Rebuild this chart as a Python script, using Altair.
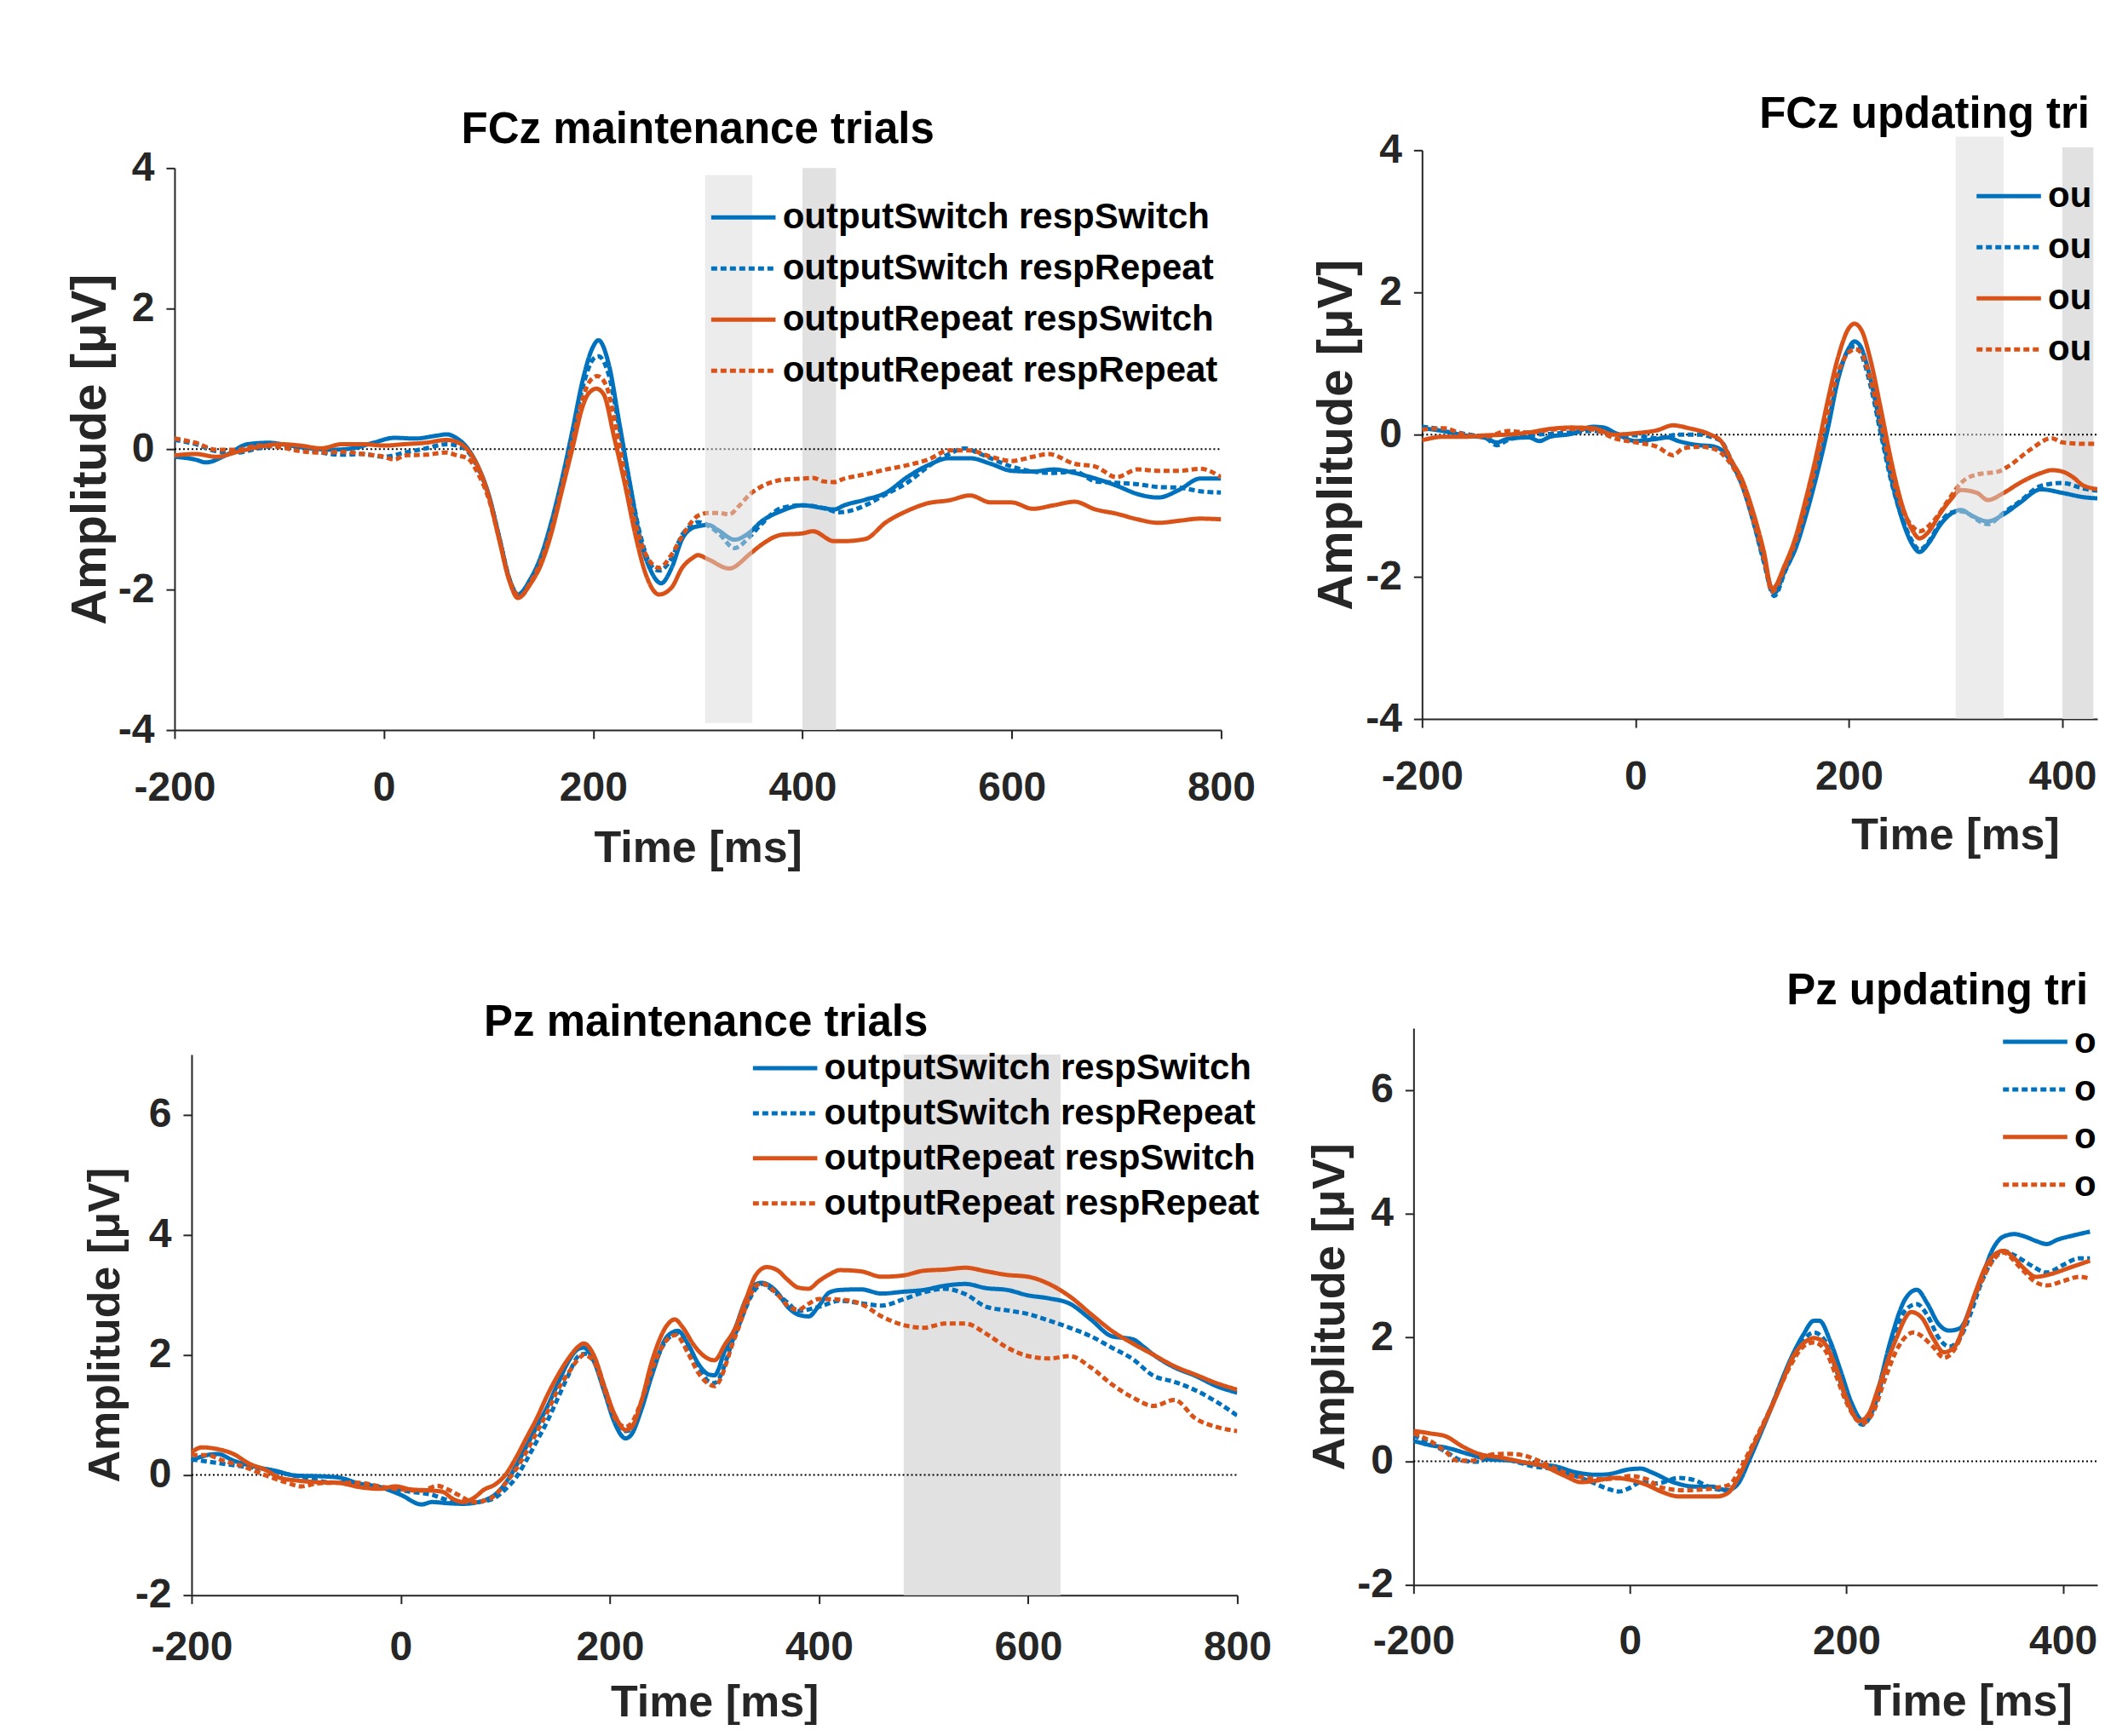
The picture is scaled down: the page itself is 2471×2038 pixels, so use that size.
import altair as alt
import pandas as pd

FONT = "Liberation Sans"
INK = "#262626"

SERIES = ["outputSwitch respSwitch", "outputSwitch respRepeat",
          "outputRepeat respSwitch", "outputRepeat respRepeat"]
COLORS = ["#0072BD", "#0072BD", "#D95319", "#D95319"]
DASHES = [[1, 0], [7, 4], [1, 0], [7, 4]]
X_TICKS = [-200, 0, 200, 400, 600, 800]
ZERO_LINE = [0]

# ---------------- FCz maintenance ----------------
TL_BS_T = [-200,-180,-170,-150,-130,-110,-90,-70,-50,-30,-10,10,30,50,60,70,80,90,100,110,120,128,140,150,160,170,180,190,200,205,215,225,235,245,255,265,275,285,295,300,310,320,335,350,360,380,400,420,430,440,460,480,500,520,540,560,580,600,620,640,660,680,700,720,740,760,780,800]
TL_BS_V = [-0.11,-0.15,-0.19,-0.08,0.07,0.09,0.05,0.01,-0.01,0.01,0.09,0.16,0.15,0.19,0.21,0.15,0.01,-0.25,-0.64,-1.24,-1.85,-2.07,-1.85,-1.53,-1.04,-0.44,0.25,0.98,1.46,1.55,1.20,0.37,-0.48,-1.28,-1.73,-1.91,-1.69,-1.28,-1.12,-1.10,-1.08,-1.16,-1.29,-1.18,-1.04,-0.88,-0.80,-0.84,-0.86,-0.80,-0.72,-0.62,-0.40,-0.23,-0.13,-0.13,-0.21,-0.31,-0.32,-0.29,-0.34,-0.42,-0.52,-0.64,-0.69,-0.58,-0.42,-0.42]
TL_BD_T = [-200,-180,-160,-140,-120,-100,-80,-60,-40,-20,0,20,40,60,70,80,90,100,110,120,130,140,150,160,170,180,190,200,205,215,225,235,245,255,263,275,285,295,300,320,335,350,360,380,400,420,435,450,460,480,500,520,540,555,570,600,620,640,660,680,700,720,740,760,780,800]
TL_BD_V = [0.13,0.07,-0.03,-0.05,0.01,0.05,0.01,-0.05,-0.08,-0.07,-0.11,-0.05,0.01,0.07,0.05,-0.03,-0.28,-0.66,-1.24,-1.85,-2.10,-1.88,-1.58,-1.10,-0.50,0.18,0.88,1.28,1.32,1.05,0.30,-0.50,-1.22,-1.65,-1.73,-1.55,-1.22,-1.08,-1.04,-1.20,-1.41,-1.24,-1.08,-0.84,-0.80,-0.84,-0.90,-0.86,-0.80,-0.64,-0.48,-0.25,-0.07,0.01,-0.07,-0.25,-0.32,-0.34,-0.32,-0.46,-0.48,-0.50,-0.54,-0.55,-0.60,-0.62]
TL_OS_T = [-200,-180,-160,-140,-120,-100,-80,-60,-40,-20,0,20,40,60,70,80,90,100,110,120,128,140,150,160,170,180,190,195,203,210,220,230,240,250,263,275,285,295,300,310,330,350,360,380,400,410,430,440,460,480,500,520,540,560,580,600,620,640,660,680,700,720,740,760,780,800]
TL_OS_V = [-0.09,-0.07,-0.11,-0.04,0.03,0.07,0.05,0.01,0.07,0.07,0.05,0.07,0.09,0.13,0.10,-0.01,-0.25,-0.66,-1.28,-1.88,-2.12,-1.92,-1.65,-1.20,-0.60,0.00,0.61,0.78,0.86,0.78,0.17,-0.48,-1.20,-1.77,-2.07,-1.97,-1.69,-1.55,-1.51,-1.57,-1.70,-1.49,-1.37,-1.22,-1.20,-1.17,-1.31,-1.31,-1.28,-1.04,-0.88,-0.77,-0.73,-0.66,-0.76,-0.76,-0.85,-0.80,-0.75,-0.86,-0.92,-1.00,-1.05,-1.02,-0.99,-1.00]
TL_OD_T = [-200,-180,-160,-140,-120,-100,-80,-60,-40,-20,0,10,20,40,60,70,80,90,100,110,120,130,140,150,160,170,180,190,196,204,212,222,232,242,252,263,275,285,295,300,310,320,330,340,350,360,380,400,410,420,430,440,460,480,500,520,540,560,580,600,620,635,660,680,700,720,740,760,780,800]
TL_OD_V = [0.15,0.09,-0.01,-0.01,0.05,0.03,-0.03,-0.05,-0.04,-0.07,-0.11,-0.15,-0.09,-0.08,-0.05,-0.09,-0.13,-0.35,-0.70,-1.26,-1.86,-2.10,-1.90,-1.60,-1.15,-0.55,0.10,0.72,0.95,1.04,0.92,0.30,-0.50,-1.15,-1.55,-1.69,-1.50,-1.24,-1.02,-0.95,-0.91,-0.91,-0.93,-0.80,-0.64,-0.54,-0.44,-0.42,-0.41,-0.46,-0.47,-0.42,-0.36,-0.29,-0.23,-0.15,-0.02,-0.02,-0.11,-0.17,-0.11,-0.07,-0.21,-0.25,-0.40,-0.29,-0.31,-0.31,-0.28,-0.40]
TL_OVER = {"t": [307], "t2": [352], "v": [-3.9], "v2": [3.9]}
TL_UNDER = {"t": [400], "t2": [432], "v": [-4], "v2": [4]}

# ---------------- FCz updating ----------------
TR_BS_T = [-200,-180,-160,-140,-130,-120,-100,-90,-80,-60,-40,-30,-20,0,20,30,40,60,70,80,90,100,110,120,130,140,150,160,170,180,190,200,205,210,220,230,240,250,260,266,275,285,295,305,315,330,345,360,380,400,420,440]
TR_BS_V = [0.09,0.05,-0.01,-0.05,-0.11,-0.06,-0.04,-0.09,-0.03,0.01,0.11,0.10,0.03,-0.09,-0.06,-0.04,-0.09,-0.15,-0.16,-0.21,-0.40,-0.72,-1.20,-1.75,-2.23,-1.91,-1.60,-1.12,-0.56,0.07,0.79,1.22,1.31,1.26,0.79,0.07,-0.64,-1.20,-1.56,-1.65,-1.52,-1.28,-1.12,-1.06,-1.14,-1.22,-1.12,-0.96,-0.77,-0.82,-0.88,-0.90]
TR_BD_T = [-200,-180,-160,-140,-130,-120,-100,-80,-60,-40,-20,0,20,40,60,70,80,90,100,110,120,130,140,150,160,170,180,190,200,205,210,220,230,240,250,260,266,275,285,295,305,330,345,360,380,400,420,440]
TR_BD_V = [0.11,0.07,0.01,-0.05,-0.15,-0.08,-0.01,0.01,0.03,0.05,0.01,-0.01,-0.05,0.00,0.00,-0.03,-0.09,-0.37,-0.70,-1.20,-1.78,-2.27,-1.93,-1.58,-1.08,-0.50,0.12,0.82,1.20,1.24,1.18,0.70,0.00,-0.68,-1.18,-1.52,-1.62,-1.50,-1.25,-1.10,-1.08,-1.26,-1.10,-0.94,-0.72,-0.68,-0.76,-0.80]
TR_OS_T = [-200,-180,-160,-140,-120,-100,-80,-60,-40,-20,0,20,35,50,70,80,90,100,110,120,128,140,150,160,170,180,190,200,205,212,220,230,240,250,260,266,275,285,295,305,320,330,345,360,380,390,400,410,420,440]
TR_OS_V = [-0.08,-0.03,-0.03,-0.01,0.00,0.03,0.08,0.10,0.09,0.00,0.02,0.06,0.13,0.09,0.00,-0.09,-0.37,-0.64,-1.08,-1.63,-2.17,-1.83,-1.44,-0.88,-0.25,0.47,1.10,1.50,1.56,1.46,1.06,0.35,-0.40,-1.00,-1.36,-1.46,-1.36,-1.12,-0.92,-0.78,-0.82,-0.92,-0.82,-0.68,-0.54,-0.50,-0.52,-0.60,-0.72,-0.78]
TR_OD_T = [-200,-180,-160,-140,-120,-100,-80,-60,-40,-20,0,20,35,45,60,75,85,100,110,120,128,140,150,160,170,180,190,200,206,212,220,230,240,250,260,266,280,295,305,320,340,350,370,390,400,420,440]
TR_OD_V = [0.07,0.09,0.00,-0.03,0.05,0.03,0.07,0.08,0.07,-0.05,-0.11,-0.17,-0.29,-0.19,-0.17,-0.21,-0.33,-0.72,-1.18,-1.72,-2.21,-1.86,-1.50,-0.98,-0.38,0.30,0.88,1.16,1.20,1.14,0.78,0.15,-0.55,-1.05,-1.30,-1.36,-1.20,-0.88,-0.68,-0.56,-0.52,-0.44,-0.21,-0.05,-0.11,-0.13,-0.13]
TR_OVER = {"t": [300], "t2": [345], "v": [-4], "v2": [4.19]}
TR_UNDER = {"t": [400], "t2": [429], "v": [-4], "v2": [4.04]}

# ---------------- Pz maintenance ----------------
BL_BS_T = [-200,-190,-175,-160,-140,-120,-100,-80,-60,-40,-20,0,20,30,45,60,80,90,100,110,120,130,140,150,160,170,175,185,195,205,215,220,230,240,255,265,275,285,295,300,310,320,330,340,345,360,370,380,390,400,410,420,440,460,480,500,520,540,560,580,600,620,640,660,680,700,710,720,740,760,780,800]
BL_BS_V = [0.24,0.31,0.35,0.24,0.14,0.07,-0.01,-0.02,-0.04,-0.14,-0.20,-0.33,-0.49,-0.45,-0.47,-0.48,-0.42,-0.33,-0.14,0.14,0.47,0.80,1.13,1.51,1.88,2.10,2.12,1.88,1.37,0.85,0.61,0.66,1.08,1.65,2.31,2.40,2.17,1.84,1.67,1.66,2.07,2.45,2.92,3.18,3.20,3.04,2.80,2.67,2.64,2.82,3.04,3.08,3.09,3.02,3.05,3.08,3.15,3.18,3.11,3.08,2.99,2.94,2.85,2.59,2.31,2.26,2.14,2.00,1.79,1.65,1.48,1.37]
BL_BD_T = [-200,-175,-150,-130,-110,-90,-70,-50,-30,-10,10,30,45,60,75,90,100,110,120,130,140,150,160,170,177,185,195,205,215,220,230,240,255,265,275,285,295,300,320,340,345,360,370,380,400,420,440,460,480,500,520,540,560,580,600,620,640,660,680,700,720,740,760,780,800]
BL_BD_V = [0.26,0.20,0.14,0.10,0.02,-0.05,-0.12,-0.13,-0.18,-0.23,-0.28,-0.33,-0.42,-0.47,-0.45,-0.38,-0.24,-0.05,0.24,0.56,0.89,1.27,1.65,1.98,2.02,1.93,1.46,0.94,0.73,0.75,1.13,1.69,2.26,2.35,2.07,1.79,1.55,1.53,2.35,3.11,3.18,3.01,2.87,2.73,2.80,2.90,2.86,2.82,2.92,3.04,3.10,3.01,2.80,2.74,2.68,2.57,2.45,2.31,2.12,1.93,1.65,1.55,1.41,1.22,0.99]
BL_OS_T = [-200,-190,-175,-160,-145,-130,-115,-100,-80,-60,-40,-20,-5,10,30,40,50,60,70,80,90,100,110,120,130,140,150,160,170,175,185,195,205,215,220,230,240,255,262,270,280,290,300,310,320,330,340,350,360,370,380,390,400,410,420,440,460,480,500,520,540,560,580,600,620,640,660,680,700,720,740,760,780,800]
BL_OS_V = [0.38,0.46,0.43,0.35,0.19,0.09,-0.05,-0.09,-0.12,-0.13,-0.20,-0.23,-0.19,-0.24,-0.26,-0.28,-0.40,-0.45,-0.38,-0.24,-0.16,0.00,0.28,0.61,0.94,1.32,1.65,1.93,2.14,2.19,1.98,1.46,0.99,0.75,0.78,1.22,1.88,2.50,2.59,2.45,2.17,1.98,1.91,2.17,2.45,2.92,3.34,3.46,3.41,3.25,3.12,3.10,3.23,3.34,3.41,3.39,3.30,3.32,3.40,3.42,3.45,3.39,3.33,3.30,3.18,2.97,2.68,2.40,2.19,2.00,1.81,1.67,1.53,1.42]
BL_OD_T = [-200,-185,-170,-150,-130,-110,-95,-80,-60,-40,-20,0,20,35,45,55,70,85,100,110,120,130,140,150,160,170,175,185,195,205,215,220,230,240,255,263,275,285,295,300,320,340,345,360,370,380,390,400,420,440,460,480,500,520,540,560,580,600,620,640,660,680,700,720,740,760,780,800]
BL_OD_V = [0.33,0.33,0.24,0.14,0.00,-0.12,-0.19,-0.14,-0.13,-0.13,-0.19,-0.24,-0.26,-0.18,-0.24,-0.33,-0.45,-0.40,-0.14,0.09,0.38,0.71,1.04,1.41,1.69,1.93,2.00,1.88,1.41,0.94,0.80,0.85,1.22,1.74,2.26,2.33,2.02,1.69,1.51,1.48,2.31,3.15,3.19,3.01,2.82,2.75,2.85,2.93,2.92,2.85,2.64,2.50,2.45,2.52,2.52,2.35,2.12,1.98,1.94,1.98,1.79,1.51,1.29,1.15,1.25,0.94,0.80,0.73]
BL_UNDER = {"t": [481], "t2": [631], "v": [-2], "v2": [7]}

# ---------------- Pz updating ----------------
BR_BS_T = [-200,-185,-170,-150,-130,-110,-90,-70,-50,-30,-20,0,10,20,40,60,75,90,100,110,120,130,140,150,160,170,175,185,195,205,215,220,230,240,255,265,275,285,295,305,315,325,335,345,355,365,375,385,395,410,425]
BR_BS_V = [0.33,0.26,0.22,0.12,0.03,0.01,-0.05,-0.08,-0.18,-0.22,-0.21,-0.13,-0.12,-0.18,-0.34,-0.41,-0.41,-0.47,-0.36,0.01,0.42,0.84,1.30,1.71,2.04,2.27,2.27,1.94,1.44,0.93,0.66,0.70,1.21,1.90,2.64,2.77,2.54,2.22,2.11,2.15,2.50,2.96,3.42,3.63,3.67,3.63,3.56,3.51,3.58,3.65,3.71]
BR_BD_T = [-200,-185,-170,-155,-140,-130,-110,-90,-70,-50,-35,-20,-10,0,10,25,45,60,75,90,100,110,120,130,140,150,160,170,180,190,200,215,225,235,245,255,265,275,285,295,305,315,325,335,345,355,370,385,400,415,425]
BR_BD_V = [0.42,0.29,0.15,0.01,-0.01,0.06,0.01,-0.08,-0.13,-0.24,-0.34,-0.45,-0.49,-0.43,-0.34,-0.36,-0.27,-0.31,-0.43,-0.47,-0.31,0.06,0.45,0.86,1.28,1.66,1.95,2.08,1.95,1.50,1.00,0.59,0.85,1.45,2.10,2.45,2.54,2.35,2.00,1.85,1.99,2.40,2.90,3.25,3.40,3.33,3.17,3.05,3.17,3.28,3.28]
BR_OS_T = [-200,-185,-170,-155,-140,-120,-100,-80,-60,-45,-30,-15,0,15,30,45,60,80,90,100,110,120,130,140,150,160,170,178,190,200,212,220,230,245,260,270,280,290,300,310,320,330,345,355,365,375,390,405,425]
BR_OS_V = [0.49,0.45,0.40,0.24,0.12,0.06,-0.01,-0.08,-0.24,-0.34,-0.31,-0.27,-0.30,-0.38,-0.50,-0.57,-0.57,-0.57,-0.52,-0.27,0.10,0.47,0.84,1.25,1.67,1.90,1.99,1.94,1.53,1.02,0.65,0.75,1.21,1.94,2.41,2.31,1.99,1.76,1.85,2.27,2.77,3.19,3.40,3.28,3.10,2.98,3.03,3.12,3.24]
BR_OD_T = [-200,-185,-170,-160,-145,-130,-115,-100,-85,-70,-55,-40,-25,-10,0,15,30,50,65,80,92,100,110,120,130,140,150,160,170,180,190,200,215,225,235,248,262,280,290,300,320,345,360,375,385,400,415,425]
BR_OD_V = [0.45,0.33,0.15,0.01,0.01,0.10,0.12,0.10,0.01,-0.11,-0.22,-0.27,-0.29,-0.27,-0.24,-0.29,-0.43,-0.47,-0.46,-0.43,-0.38,-0.18,0.15,0.50,0.86,1.25,1.60,1.85,1.92,1.80,1.40,0.95,0.61,0.80,1.30,1.85,2.08,1.85,1.67,1.81,2.73,3.37,3.14,2.89,2.84,2.91,2.98,2.95]


def series_frame(pairs):
    rows = []
    for name, (ts, vs) in zip(SERIES, pairs):
        for t, v in zip(ts, vs):
            rows.append({"series": name, "t": t, "v": v})
    return pd.DataFrame(rows)


def panel(p):
    xmax = p["xmax"]
    xenc = alt.X("t:Q",
                 scale=alt.Scale(domain=[-200, xmax], nice=False, zero=False, range=p["xrange"]),
                 axis=alt.Axis(values=[v for v in X_TICKS if v <= xmax], labelExpr="'' + datum.value",
                               title="Time [ms]", titleX=p["titleX"],
                               labelFont=FONT, labelFontSize=48, labelFontWeight="bold",
                               labelColor=INK, labelPadding=p["xlp"], labelFlush=False, labelOverlap=False,
                               domainColor=INK, domainWidth=2, tickColor=INK, tickWidth=2, tickSize=10,
                               titleFont=FONT, titleFontSize=52, titleFontWeight="bold",
                               titleColor=INK, titlePadding=p["xtp"], grid=False))
    yenc = alt.Y("v:Q",
                 scale=alt.Scale(domain=p["ydom"], nice=False, zero=False, range=p["yrange"]),
                 axis=alt.Axis(values=p["yticks"], labelExpr="'' + datum.value", title="Amplitude [μV]",
                               offset=p["yoff"],
                               labelFont=FONT, labelFontSize=48, labelFontWeight="bold",
                               labelColor=INK, labelPadding=14, labelFlush=False, labelOverlap=False,
                               domainColor=INK, domainWidth=2, tickColor=INK, tickWidth=2, tickSize=10,
                               titleFont=FONT, titleFontSize=p["ytfs"], titleFontWeight="bold",
                               titleColor=INK, titlePadding=p["ytp"], grid=False))
    lx, ly, rp, lim = p["legend"]
    legend = alt.Legend(title=None, orient="none", legendX=lx, legendY=ly,
                        symbolType="M-2.1,0H2.1", symbolSize=1296, symbolStrokeWidth=5,
                        labelFont=FONT, labelFontSize=42, labelFontWeight="bold",
                        labelColor="black", labelLimit=lim, labelOffset=25, rowPadding=rp, padding=0)
    layers = []
    if p.get("under"):
        layers.append(alt.Chart(pd.DataFrame(p["under"])).mark_rect(color="#e1e1e1")
                      .encode(x=xenc, x2="t2:Q", y=yenc, y2="v2:Q"))
    layers.append(alt.Chart(pd.DataFrame({"t": [-200], "t2": [xmax], "v": ZERO_LINE}))
                  .mark_rule(color="black", strokeWidth=2, strokeDash=[2, 3])
                  .encode(x=xenc, x2="t2:Q", y=yenc))
    layers.append(alt.Chart(series_frame(p["pairs"]))
                  .mark_line(strokeWidth=5, interpolate="monotone", clip=True)
                  .encode(x=xenc, y=yenc,
                          color=alt.Color("series:N", scale=alt.Scale(domain=SERIES, range=COLORS),
                                          legend=legend),
                          strokeDash=alt.StrokeDash("series:N", scale=alt.Scale(domain=SERIES, range=DASHES),
                                                    legend=legend),
                          order=alt.Order("t:Q")))
    if p.get("over"):
        layers.append(alt.Chart(pd.DataFrame(p["over"])).mark_rect(color="#d9d9d9", opacity=0.5)
                      .encode(x=xenc, x2="t2:Q", y=yenc, y2="v2:Q"))
    tkw = dict(text=p["title"], font=FONT, fontSize=51, fontWeight="bold", color="black",
               baseline="alphabetic", offset=p["toff"], frame="group", dy=p["tdy"])
    if p.get("tdx") is not None:
        tkw.update(anchor="start", dx=p["tdx"], limit=p["tlim"])
    else:
        tkw.update(anchor="middle")
    return alt.layer(*layers).properties(width=p["w"], height=p["h"], title=alt.TitleParams(**tkw))


TL = dict(title="FCz maintenance trials", toff=3, tdy=49,
          pairs=[(TL_BS_T, TL_BS_V), (TL_BD_T, TL_BD_V), (TL_OS_T, TL_OS_V), (TL_OD_T, TL_OD_V)],
          xmax=800, xrange=[0, 1229], w=1229, titleX=614.5, xlp=34, xtp=21,
          ydom=[-4, 4], yticks=[-4, -2, 0, 2, 4], yrange=[681, 21], h=681, yoff=0, ytfs=58, ytp=3,
          legend=(647, 58, 18, 3000), over=TL_OVER, under=TL_UNDER)
TR = dict(title="FCz updating trials", toff=4, tdy=53, tdx=396, tlim=396,
          pairs=[(TR_BS_T, TR_BS_V), (TR_BD_T, TR_BD_V), (TR_OS_T, TR_OS_V), (TR_OD_T, TR_OD_V)],
          xmax=432.7, xrange=[0, 793], w=793, titleX=626, xlp=34, xtp=19,
          ydom=[-4, 4], yticks=[-4, -2, 0, 2, 4], yrange=[668, 0], h=668, yoff=0, ytfs=58, ytp=4,
          legend=(668, 33, 18, 58), over=TR_OVER, under=TR_UNDER)
BL = dict(title="Pz maintenance trials", toff=0, tdy=60,
          pairs=[(BL_BS_T, BL_BS_V), (BL_BD_T, BL_BD_V), (BL_OS_T, BL_OS_V), (BL_OD_T, BL_OD_V)],
          xmax=800, xrange=[20, 1248], w=1248, titleX=634, xlp=28, xtp=15,
          ydom=[-2, 7], yticks=[-2, 0, 2, 4, 6], yrange=[666, 31], h=666, yoff=-20, ytfs=52, ytp=8,
          legend=(696, 26, 11, 3000), under=BL_UNDER)
BR = dict(title="Pz updating trials", toff=22, tdy=50, tdx=438, tlim=365,
          pairs=[(BR_BS_T, BR_BS_V), (BR_BD_T, BR_BD_V), (BR_OS_T, BR_OS_V), (BR_OD_T, BR_OD_V)],
          xmax=431.8, xrange=[0, 803], w=803, titleX=651, xlp=33, xtp=21,
          ydom=[-2, 7], yticks=[-2, 0, 2, 4, 6], yrange=[654, 0], h=654, yoff=0, ytfs=54, ytp=4,
          legend=(709, -5, 14, 27))

row1 = alt.hconcat(panel(TL), panel(TR), spacing=66).resolve_legend(
    color="independent", strokeDash="independent")
row2 = alt.hconcat(panel(BL), panel(BR), spacing=41).resolve_legend(
    color="independent", strokeDash="independent")
chart = alt.vconcat(row1, row2, spacing=117).resolve_legend(
    color="independent", strokeDash="independent"
).properties(
    padding={"left": 69, "top": 101, "right": 0, "bottom": 0}
).configure(
    background="white",
    style={"guide-label": {"ellipsis": "\u200b"}, "group-title": {"ellipsis": "\u200b"}},
).configure_view(stroke=None)

chart.save("out.html", embed_options={"renderer": "svg", "actions": False})
